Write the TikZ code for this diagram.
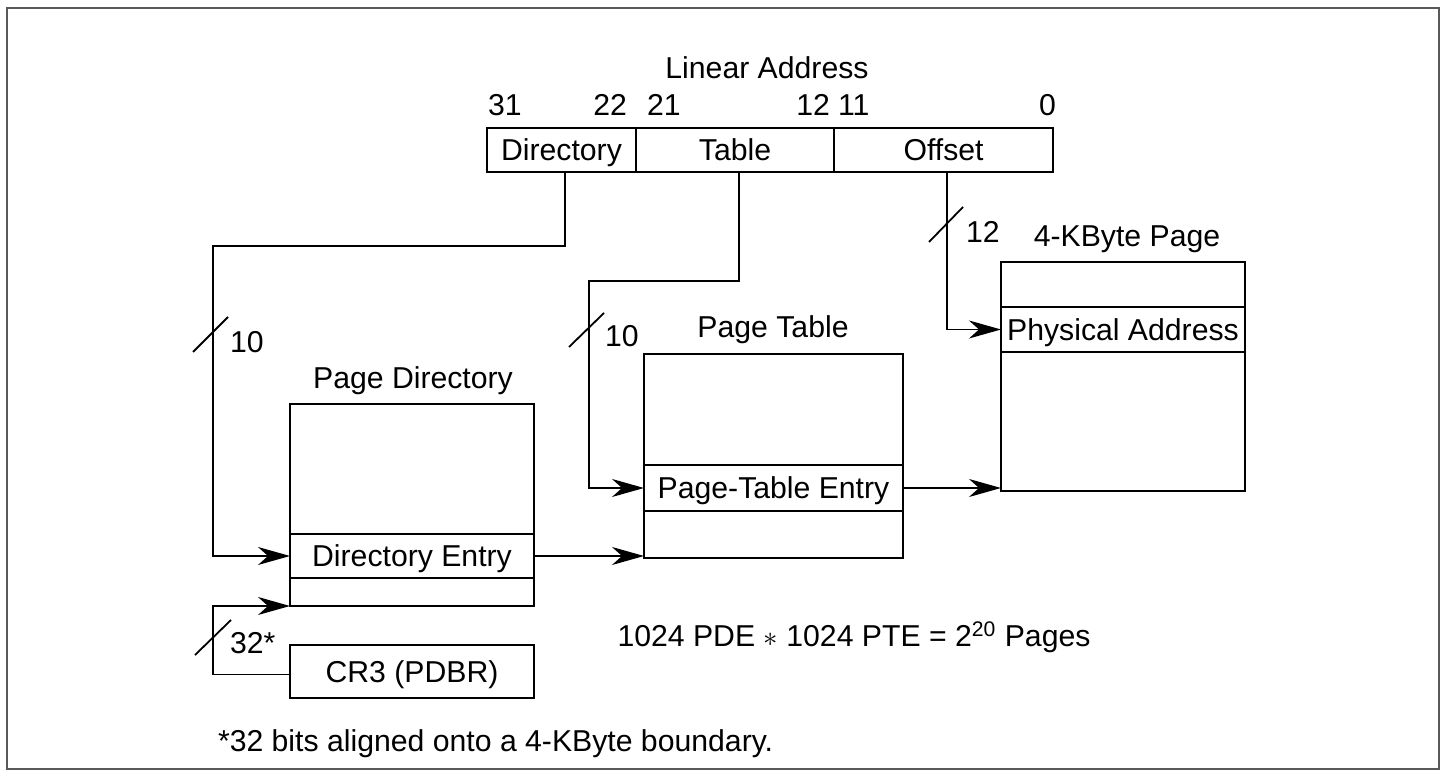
\documentclass[tikz,border=0pt]{standalone}
\usepackage{fontspec}
\setmainfont{Liberation Sans}
\usetikzlibrary{arrows.meta}
\begin{document}
\begin{tikzpicture}[x=0.5pt,y=-0.5pt,
  every node/.style={font=\fontsize{15.1}{17}\selectfont, inner sep=0pt, outer sep=0pt},
  cell/.style={draw, line width=0.75pt, anchor=north west, minimum width=122pt,
    text height=10.8pt, text depth=0pt},
  lbl/.style={text height=10.8pt, text depth=0pt},
  wire/.style={line width=0.75pt},
  arr/.style={wire, -{Stealth[length=16pt,width=9pt,inset=5pt]}},
  busmark/.style={line width=0.9pt}]
\useasboundingbox (0,0) rectangle (1450,779);
\draw[line width=1.1pt, black!65] (7,8) rectangle (1439,769);

% linear address fields
\node[lbl] (latitle) at (767,68) {Linear Address};
\node[lbl, anchor=west] (b31) at (488,105) {31};
\node[lbl, anchor=east] (b22) at (627,105) {22};
\node[lbl, anchor=west] (b21) at (647,105) {21};
\node[lbl, anchor=east] (b12) at (830,105) {12};
\node[lbl, anchor=west] (b11) at (838,105) {11};
\node[lbl, anchor=east] (b0)  at (1056,105) {0};
\node[cell, minimum width=74.5pt, minimum height=22pt] (ladir) at (487,128) {Directory};
\node[cell, minimum width=99pt,   minimum height=22pt] (latab) at (636,128) {Table};
\node[cell, minimum width=109.5pt,minimum height=22pt] (laoff) at (834,128) {Offset};

% page directory
\node[lbl] (pdtitle) at (413,378) {Page Directory};
\node[cell, minimum height=65pt] (pdtop) at (290,404) {};
\node[cell, minimum height=22pt] (pde) at (290,534) {Directory Entry};
\node[cell, minimum height=14pt] (pdb) at (290,578) {};

% CR3
\node[cell, minimum height=26.5pt] (cr3) at (290,645) {CR3 (PDBR)};

% page table
\node[lbl] (pttitle) at (773,327) {Page Table};
\node[cell, minimum width=129.5pt, minimum height=55.5pt] (pttop) at (644,354) {};
\node[cell, minimum width=129.5pt, minimum height=23pt] (pte) at (644,465) {Page-Table Entry};
\node[cell, minimum width=129.5pt, minimum height=23.5pt] (ptb) at (644,511) {};

% 4-KByte page
\node[lbl] (pgtitle) at (1127,236) {4-KByte Page};
\node[cell, minimum height=22.5pt] (pgtop) at (1001,262) {};
\node[cell, minimum height=22.5pt] (pa) at (1001,307) {Physical Address};
\node[cell, minimum height=69.5pt] (pgb) at (1001,352) {};

% connectors
\coordinate (dirbend) at (213,246);
\coordinate (tabbend) at (589,281);
\coordinate (cr3bend) at (213,606);
\draw[arr] ([xshift=1.75pt]ladir.south) |- (dirbend) |- (pde.west);
\draw[arr] ([xshift=2pt]latab.south) |- (tabbend) |- (pte.west);
\draw[arr] ([xshift=1.75pt]laoff.south) |- (pa.west);
\draw[arr] (pde.east) -- (pde.east -| ptb.west);
\draw[arr] (pte.east) -- (pte.east -| pgb.west);
\draw[arr] ([yshift=-1.5pt]cr3.west) -| (cr3bend) -- (pdb.south west);

% bus width marks
\draw[busmark] (193,352) -- (228,317);
\node[lbl, anchor=west] (w1) at (230,342) {10};
\draw[busmark] (569,347) -- (604,313);
\node[lbl, anchor=west] (w2) at (605,336) {10};
\draw[busmark] (929,242) -- (963,207);
\node[lbl, anchor=west] (w3) at (966,232) {12};
\draw[busmark] (195,655) -- (231,620);
\node[lbl, anchor=west] (w4) at (230,643) {32*};

% notes
\node[lbl] (formula) at (854,636) {1024 PDE $\ast$ 1024 PTE = 2\textsuperscript{20} Pages};
\node[lbl, anchor=west] (foot) at (218,741) {*32 bits aligned onto a 4-KByte boundary.};
\end{tikzpicture}
\end{document}
